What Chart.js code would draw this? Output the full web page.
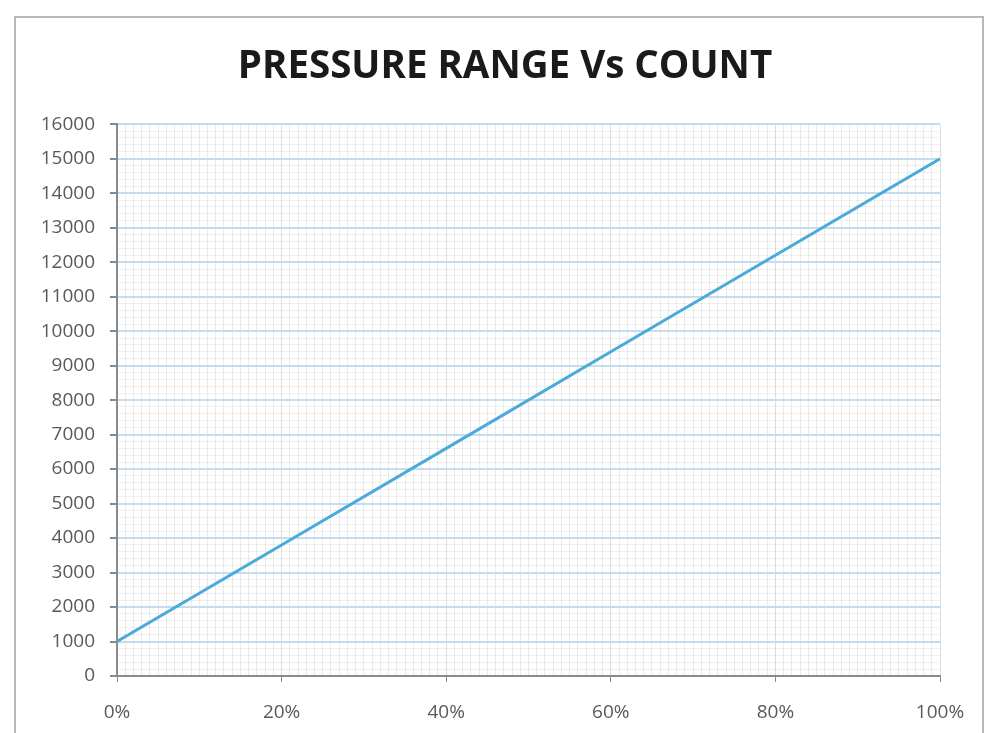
<!DOCTYPE html>
<html>
<head>
<meta charset="utf-8">
<script src="https://cdn.jsdelivr.net/npm/chart.js@4.4.1/dist/chart.umd.min.js"></script>
<style>
  html, body { margin: 0; padding: 0; background: #fff; }
  #wrap { position: relative; width: 987px; height: 733px; }
  #frame { position: absolute; left: 14px; top: 16px; width: 970px; height: 730px; border: 2px solid #b8b8b8; box-sizing: border-box; pointer-events: none; }
  canvas { position: absolute; left: 0; top: 0; }
</style>
</head>
<body>
<div id="wrap">
  <canvas id="pressureChart" width="987" height="733"></canvas>
  <div id="frame"></div>
</div>
<script>
// pressure range (%) and count
const pressureRange = [0, 20, 40, 60, 80, 100];
const counts = [1000, 3800, 6600, 9400, 12200, 15000];
const yMax = 16000;

const points = pressureRange.map((p, i) => ({ x: p, y: counts[i] }));

new Chart(document.getElementById('pressureChart'), {
  type: 'line',
  data: {
    datasets: [{
      label: 'Count',
      data: points,
      borderColor: '#4aaad9',
      borderWidth: 3,
      pointRadius: 0,
      tension: 0,
      fill: false
    }]
  },
  options: {
    responsive: false,
    animation: false,
    // small left padding + empty right axis keeps the title centred like the original
    layout: { padding: { left: 23, right: 0, top: 0, bottom: 0 } },
    plugins: {
      legend: { display: false },
      tooltip: { enabled: false },
      title: {
        display: true,
        text: 'PRESSURE RANGE Vs COUNT',
        color: '#1a1a1a',
        font: { family: 'Open Sans', size: 38.5, weight: 'bold', lineHeight: 1.2 },
        padding: { top: 44, bottom: 34 }
      }
    },
    scales: {
      x: {
        type: 'linear',
        min: 0,
        max: 100,
        afterFit: s => { s.height = 57; },
        border: { color: '#8a8a8a', width: 2 },
        grid: {
          color: ctx => ctx.tick && ctx.tick.value % 20 === 0 && ctx.tick.value !== 0 ? 'rgba(0,0,0,0.13)' : 'rgba(0,0,0,0.08)',
          tickColor: ctx => ctx.tick && ctx.tick.value % 20 === 0 ? '#8a8a8a' : 'rgba(0,0,0,0)',
          tickLength: 6
        },
        ticks: {
          stepSize: 1,
          autoSkip: false,
          maxRotation: 0,
          padding: 19,
          color: '#595959',
          font: { family: 'Open Sans', size: 19 },
          callback: v => v % 20 === 0 ? v + '%' : ''
        }
      },
      y: {
        min: 0,
        max: yMax,
        afterFit: s => { s.width = 94; },
        border: { color: '#8a8a8a', width: 2 },
        grid: {
          color: ctx => ctx.tick && ctx.tick.value % 1000 === 0 ? '#c4dcef' : 'rgba(0,0,0,0.06)',
          lineWidth: ctx => ctx.tick && ctx.tick.value % 1000 === 0 ? 2 : 1,
          tickColor: ctx => ctx.tick && ctx.tick.value % 1000 === 0 ? '#8a8a8a' : 'rgba(0,0,0,0)',
          tickLength: 7
        },
        ticks: {
          stepSize: 200,
          autoSkip: false,
          padding: 15,
          color: '#595959',
          font: { family: 'Open Sans', size: 19 },
          callback: v => v % 1000 === 0 ? v : ''
        }
      },
      spacer: {
        position: 'right',
        min: 0,
        max: yMax,
        afterFit: s => { s.width = 47; },
        grid: { display: false, drawTicks: false },
        border: { display: false },
        ticks: { display: false }
      }
    }
  }
});
</script>
</body>
</html>
